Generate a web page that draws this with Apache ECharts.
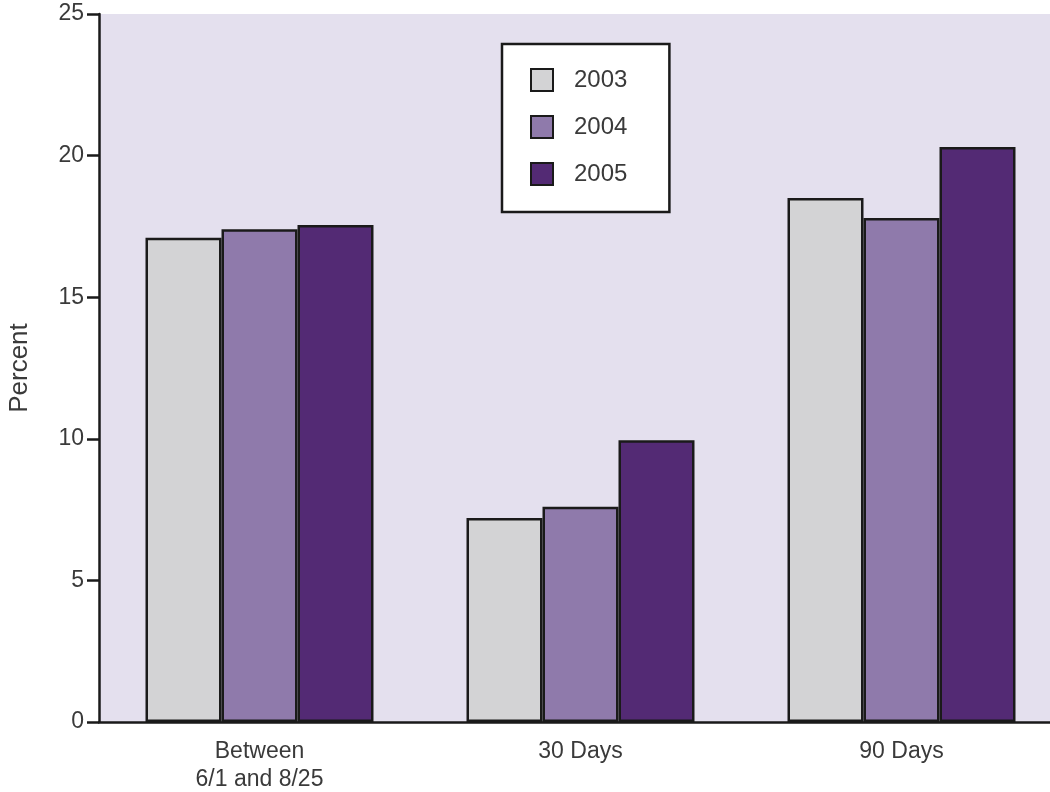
<!DOCTYPE html>
<html>
<head>
<meta charset="utf-8">
<script src="https://cdn.jsdelivr.net/npm/echarts@6/dist/echarts.min.js"></script>
<style>
  html, body { margin: 0; padding: 0; background: #fff; }
  #chart { width: 1050px; height: 792px; }
</style>
</head>
<body>
<div id="chart"></div>
<script>
  // categories and series
  const categories = ['Between\n6/1 and 8/25', '30 Days', '90 Days'];
  const years = ['2003', '2004', '2005'];
  const v2003 = [17.1, 7.2, 18.5];
  const v2004 = [17.4, 7.6, 17.8];
  const v2005 = [17.55, 9.95, 20.3];
  const yTicks = [0, 5, 10, 15, 20, 25];

  const colors = ['#d3d3d5', '#8f7aab', '#532a74'];
  const values = [v2003, v2004, v2005];
  const font = '"Liberation Sans", "DejaVu Sans", sans-serif';

  let chart = echarts.init(document.getElementById('chart'));
  chart.setOption({
    animation: false,
    textStyle: { fontFamily: font },
    grid: {
      left: 99, top: 14, bottom: 70, right: -12,
      outerBoundsMode: 'none',
      containLabel: false,
      show: true, backgroundColor: '#e4e0ee', borderWidth: 0
    },
    legend: {
      orient: 'vertical',
      left: 502, top: 44,
      padding: [24, 42, 26, 28],
      itemWidth: 22, itemHeight: 22, itemGap: 23,
      backgroundColor: '#fff',
      borderColor: '#1a1a1a', borderWidth: 2.5,
      icon: 'rect',
      textStyle: { fontSize: 24, color: '#3a3a3a', padding: [0, 0, 0, 16] },
      data: years
    },
    xAxis: {
      type: 'category',
      data: categories,
      axisLine: { lineStyle: { color: '#1a1a1a', width: 2.5 } },
      axisTick: { show: false },
      axisLabel: { fontSize: 23, color: '#3a3a3a', margin: 16, lineHeight: 28, interval: 0 }
    },
    yAxis: {
      type: 'value',
      min: 0, max: 25, interval: 5,
      name: 'Percent',
      nameLocation: 'middle',
      nameGap: 66,
      nameTextStyle: { fontSize: 26, color: '#3a3a3a' },
      splitLine: { show: false },
      axisLine: { show: true, lineStyle: { color: '#1a1a1a', width: 2.5 } },
      axisTick: { show: true, inside: false, length: 12, lineStyle: { color: '#1a1a1a', width: 2.5 } },
      axisLabel: {
        fontSize: 23, color: '#3a3a3a', margin: 15,
        formatter: v => yTicks.includes(v) ? String(v) : ''
      }
    },
    series: years.map((y, i) => ({
      name: y,
      type: 'bar',
      barWidth: 76,
      barGap: '0%',
      data: values[i],
      itemStyle: { color: colors[i], borderColor: '#1a1a1a', borderWidth: 2.5 }
    }))
  });
</script>
</body>
</html>
